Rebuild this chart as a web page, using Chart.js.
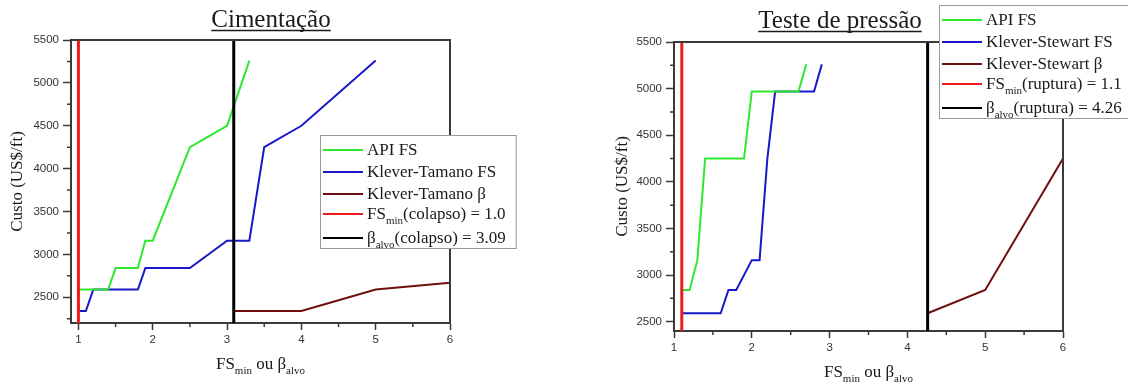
<!DOCTYPE html>
<html>
<head>
<meta charset="utf-8">
<script src="https://cdn.jsdelivr.net/npm/chart.js@4.4.0/dist/chart.umd.min.js"></script>
<style>
  html, body { margin: 0; padding: 0; background: #fff; }
  #wrap { position: relative; width: 1128px; height: 390px; overflow: hidden; }
  .box { position: absolute; top: 0; height: 390px; }
  #left { left: 0; width: 560px; }
  #right { left: 560px; width: 568px; }
</style>
</head>
<body>
<div id="wrap">
  <div class="box" id="left"><canvas id="cim-chart"></canvas></div>
  <div class="box" id="right"><canvas id="teste-chart"></canvas></div>
</div>
<script>
// Cimentação - dados
const cimApiX = [1, 1.4, 1.5, 1.8, 1.9, 2.0, 2.5, 3.0, 3.3];
const cimApiY = [2590, 2590, 2840, 2840, 3160, 3160, 4250, 4500, 5260];
const cimKtX = [1, 1.1, 1.2, 1.8, 1.9, 2.5, 3.0, 3.3, 3.5, 4.0, 5.0];
const cimKtY = [2340, 2340, 2590, 2590, 2840, 2840, 3160, 3160, 4250, 4500, 5260];
const cimBetaX = [3.09, 4, 5, 6];
const cimBetaY = [2340, 2340, 2590, 2670];
const cimFsMin = 1.0;
const cimBetaAlvo = 3.09;
const cimXRange = [0.9, 6];
const cimYRange = [2200, 5500];
const cimXTicks = [1, 2, 3, 4, 5, 6];
const cimXMinor = [1.5, 2.5, 3.5, 4.5, 5.5];
const cimYTicks = [2500, 3000, 3500, 4000, 4500, 5000, 5500];
const cimYMinor = [2250, 2750, 3250, 3750, 4250, 4750, 5250];

// Teste de pressão - dados
const tstApiX = [1.1, 1.2, 1.3, 1.4, 1.9, 2.0, 2.6, 2.7];
const tstApiY = [2840, 2840, 3160, 4250, 4250, 4970, 4970, 5260];
const tstKsX = [1.1, 1.6, 1.7, 1.8, 2.0, 2.1, 2.2, 2.3, 2.8, 2.9];
const tstKsY = [2590, 2590, 2840, 2840, 3160, 3160, 4250, 4970, 4970, 5260];
const tstBetaX = [4.26, 5, 6];
const tstBetaY = [2590, 2840, 4250];
const tstFsMin = 1.1;
const tstBetaAlvo = 4.26;
const tstXRange = [1, 6];
const tstYRange = [2400, 5500];
const tstXTicks = [1, 2, 3, 4, 5, 6];
const tstXMinor = [1.5, 2.5, 3.5, 4.5, 5.5];
const tstYTicks = [2500, 3000, 3500, 4000, 4500, 5000, 5500];
const tstYMinor = [2750, 3250, 3750, 4250, 4750, 5250];

// legendas (segmentos: [texto, subscrito?])
const cimLegend = [
    [['API FS', false]],
    [['Klever-Tamano FS', false]],
    [['Klever-Tamano β', false]],
    [['FS', false], ['min', true], ['(colapso) = 1.0', false]],
    [['β', false], ['alvo', true], ['(colapso) = 3.09', false]]
];
const tstLegend = [
    [['API FS', false]],
    [['Klever-Stewart FS', false]],
    [['Klever-Stewart β', false]],
    [['FS', false], ['min', true], ['(ruptura) = 1.1', false]],
    [['β', false], ['alvo', true], ['(ruptura) = 4.26', false]]
];
const xTitleSegs = [['FS', false], ['min', true], [' ou β', false], ['alvo', true]];

const colors = ['#2ee82e', '#1818c8', '#6e1010', '#ee1c1c', '#000000'];
const axisColor = '#3a3a3a';
const serif = "'Liberation Serif', 'Times New Roman', serif";
const sans = "'Liberation Sans', Arial, sans-serif";

function pts(xs, ys) {
    return xs.map((x, i) => ({ x: x, y: ys[i] }));
}

function drawSegs(ctx, segs, x, y, size, subSize, subDrop) {
    ctx.textBaseline = 'alphabetic';
    ctx.textAlign = 'left';
    for (const [text, sub] of segs) {
        ctx.font = (sub ? subSize : size) + 'px ' + serif;
        ctx.fillText(text, x, sub ? y + subDrop : y);
        x += ctx.measureText(text).width;
    }
    return x;
}

function segsWidth(ctx, segs, size, subSize) {
    let w = 0;
    for (const [text, sub] of segs) {
        ctx.font = (sub ? subSize : size) + 'px ' + serif;
        w += ctx.measureText(text).width;
    }
    return w;
}

// plugin: moldura, ticks menores, título, título do eixo x e legenda
const decorPlugin = {
    id: 'decor',
    afterDraw(chart, args, opts) {
        const ctx = chart.ctx;
        const area = chart.chartArea;
        const xs = chart.scales.x;
        const ys = chart.scales.y;
        ctx.save();

        // moldura superior e direita
        ctx.strokeStyle = axisColor;
        ctx.lineWidth = 2;
        ctx.beginPath();
        ctx.moveTo(area.left - 1, area.top);
        ctx.lineTo(area.right, area.top);
        ctx.lineTo(area.right, area.bottom + 1);
        ctx.stroke();

        // ticks menores
        ctx.lineWidth = 1.5;
        ctx.beginPath();
        for (const v of opts.xMinor) {
            const px = xs.getPixelForValue(v);
            ctx.moveTo(px, area.bottom);
            ctx.lineTo(px, area.bottom + 4);
        }
        for (const v of opts.yMinor) {
            const py = ys.getPixelForValue(v);
            ctx.moveTo(area.left, py);
            ctx.lineTo(area.left - 4, py);
        }
        ctx.stroke();

        // título sublinhado
        ctx.fillStyle = '#1a1a1a';
        ctx.font = '25px ' + serif;
        ctx.textAlign = 'center';
        ctx.textBaseline = 'alphabetic';
        ctx.fillText(opts.title, opts.titleX, opts.titleY);
        const tw = ctx.measureText(opts.title).width;
        ctx.strokeStyle = '#1a1a1a';
        ctx.lineWidth = 1.3;
        ctx.beginPath();
        ctx.moveTo(opts.titleX - tw / 2, opts.titleY + 3.5);
        ctx.lineTo(opts.titleX + tw / 2, opts.titleY + 3.5);
        ctx.stroke();

        // título do eixo x
        const xw = segsWidth(ctx, xTitleSegs, 17, 11);
        const cx = (area.left + area.right) / 2;
        drawSegs(ctx, xTitleSegs, cx - xw / 2, area.bottom + 46, 17, 11, 5);

        // legenda
        const lx = opts.legendX, ly = opts.legendY;
        let maxW = 0;
        for (const item of opts.items) maxW = Math.max(maxW, segsWidth(ctx, item, 17, 11));
        const bw = 47 + maxW + 10;
        const bh = 113;
        ctx.fillStyle = '#fff';
        ctx.fillRect(lx, ly, bw, bh);
        ctx.strokeStyle = '#9a9a9a';
        ctx.lineWidth = 1;
        ctx.strokeRect(lx + 0.5, ly + 0.5, bw, bh);
        const rows = [15, 37, 59, 79, 103];
        opts.items.forEach((item, i) => {
            const ry = ly + rows[i];
            ctx.strokeStyle = colors[i];
            ctx.lineWidth = 2;
            ctx.beginPath();
            ctx.moveTo(lx + 3, ry);
            ctx.lineTo(lx + 43, ry);
            ctx.stroke();
            ctx.fillStyle = '#1a1a1a';
            drawSegs(ctx, item, lx + 47, ry + 5, 17, 11, 5);
        });

        ctx.restore();
    }
};

function buildChart(canvasId, cfg) {
    const ctx = document.getElementById(canvasId).getContext('2d');
    return new Chart(ctx, {
        type: 'line',
        data: {
            datasets: [
                { label: cfg.names[0], data: cfg.api, borderColor: colors[0], order: 2 },
                { label: cfg.names[1], data: cfg.kt, borderColor: colors[1], order: 2 },
                { label: cfg.names[2], data: cfg.beta, borderColor: colors[2], order: 2 },
                { label: cfg.names[3], data: [{ x: cfg.fsMin, y: cfg.yRange[0] }, { x: cfg.fsMin, y: cfg.yRange[1] }],
                  borderColor: colors[3], borderWidth: 3, order: 1 },
                { label: cfg.names[4], data: [{ x: cfg.betaAlvo, y: cfg.yRange[0] }, { x: cfg.betaAlvo, y: cfg.yRange[1] }],
                  borderColor: colors[4], borderWidth: 3, order: 1 }
            ]
        },
        options: {
            responsive: true,
            maintainAspectRatio: false,
            animation: false,
            layout: { padding: cfg.padding },
            elements: {
                line: { borderWidth: 2, tension: 0, fill: false },
                point: { radius: 0 }
            },
            plugins: {
                legend: { display: false },
                tooltip: { enabled: false },
                decor: {
                    title: cfg.title,
                    titleX: cfg.titleX,
                    titleY: cfg.titleY,
                    legendX: cfg.legendX,
                    legendY: cfg.legendY,
                    items: cfg.legend,
                    xMinor: cfg.xMinor,
                    yMinor: cfg.yMinor
                }
            },
            scales: {
                x: {
                    type: 'linear',
                    min: cfg.xRange[0],
                    max: cfg.xRange[1],
                    afterBuildTicks: (scale) => { scale.ticks = cfg.xTicks.map(v => ({ value: v })); },
                    afterFit: (scale) => { scale.height = cfg.xAxisH; },
                    border: { color: axisColor, width: 2 },
                    grid: { drawOnChartArea: false, tickLength: 7, tickColor: axisColor, tickWidth: 1.5 },
                    ticks: {
                        color: '#333', font: { family: sans, size: 11.5 }, padding: 3, maxRotation: 0,
                        callback: (value) => String(value)
                    }
                },
                y: {
                    type: 'linear',
                    min: cfg.yRange[0],
                    max: cfg.yRange[1],
                    afterBuildTicks: (scale) => { scale.ticks = cfg.yTicks.map(v => ({ value: v })); },
                    afterFit: (scale) => { scale.width = cfg.yAxisW; },
                    border: { color: axisColor, width: 2 },
                    grid: { drawOnChartArea: false, tickLength: 8, tickColor: axisColor, tickWidth: 1.5 },
                    ticks: {
                        color: '#333', font: { family: sans, size: 11.5 }, padding: 4,
                        callback: (value) => String(value)
                    },
                    title: {
                        display: true,
                        text: 'Custo (US$/ft)',
                        color: '#1a1a1a',
                        font: { family: serif, size: 17 },
                        padding: { top: cfg.yTitlePad, bottom: 0 }
                    }
                }
            }
        },
        plugins: [decorPlugin]
    });
}

buildChart('cim-chart', {
    names: ['API FS', 'Klever-Tamano FS', 'Klever-Tamano β', 'FSmin(colapso) = 1.0', 'βalvo(colapso) = 3.09'],
    api: pts(cimApiX, cimApiY),
    kt: pts(cimKtX, cimKtY),
    beta: pts(cimBetaX, cimBetaY),
    fsMin: cimFsMin,
    betaAlvo: cimBetaAlvo,
    xRange: cimXRange,
    yRange: cimYRange,
    xTicks: cimXTicks,
    yTicks: cimYTicks,
    xMinor: cimXMinor,
    yMinor: cimYMinor,
    padding: { top: 40, right: 110, left: 0, bottom: 0 },
    xAxisH: 67,
    yAxisW: 71,
    yTitlePad: 7,
    title: 'Cimentação',
    titleX: 271,
    titleY: 27,
    legendX: 320,
    legendY: 135,
    legend: cimLegend
});

buildChart('teste-chart', {
    names: ['API FS', 'Klever-Stewart FS', 'Klever-Stewart β', 'FSmin(ruptura) = 1.1', 'βalvo(ruptura) = 4.26'],
    api: pts(tstApiX, tstApiY),
    kt: pts(tstKsX, tstKsY),
    beta: pts(tstBetaX, tstBetaY),
    fsMin: tstFsMin,
    betaAlvo: tstBetaAlvo,
    xRange: tstXRange,
    yRange: tstYRange,
    xTicks: tstXTicks,
    yTicks: tstYTicks,
    xMinor: tstXMinor,
    yMinor: tstYMinor,
    padding: { top: 42, right: 65, left: 0, bottom: 0 },
    xAxisH: 59,
    yAxisW: 114,
    yTitlePad: 52,
    title: 'Teste de pressão',
    titleX: 280,
    titleY: 28,
    legendX: 379,
    legendY: 5,
    legend: tstLegend
});
</script>
</body>
</html>
